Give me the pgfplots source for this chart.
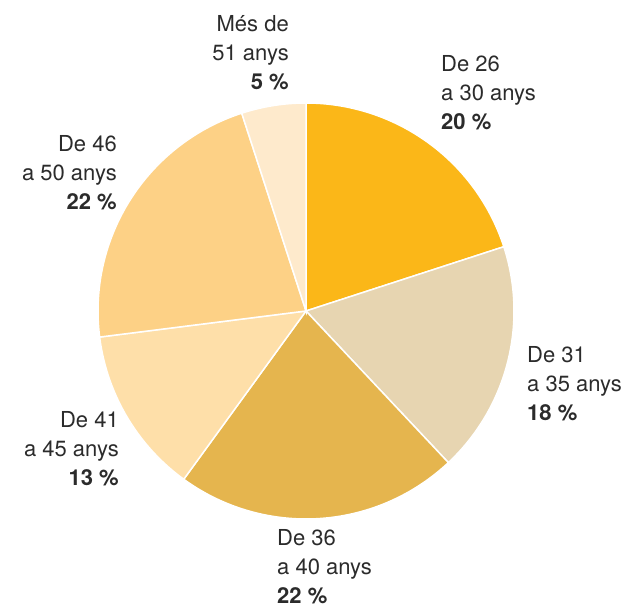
\documentclass[border=0pt]{standalone}
\usepackage{pgfplots}
\pgfplotsset{compat=1.18}
\usepackage{fontspec}
\setmainfont{TeX Gyre Heros}
\definecolor{cA}{HTML}{FBB718}
\definecolor{cB}{HTML}{E7D5B1}
\definecolor{cC}{HTML}{E5B54E}
\definecolor{cD}{HTML}{FEDFA9}
\definecolor{cE}{HTML}{FDD186}
\definecolor{cF}{HTML}{FEEACC}
\definecolor{txt}{HTML}{2B2B2B}
% shares (%): 26-30:20, 31-35:18, 36-40:22, 41-45:13, 46-50:22, >51:5
% angles: start at 90 deg, clockwise, 3.6 deg per percent
\begin{document}
\begin{tikzpicture}
\begin{axis}[
  name=ax,
  width=628bp, height=609bp, scale only axis,
  xmin=0, xmax=628, ymin=0, ymax=609,
  hide axis, clip=false,
]
\def\cx{306}\def\cy{298}\def\R{208}
\addplot[fill=cA, draw=white, line width=1.5pt, domain=90:18, samples=60]
  ({\cx+\R*cos(x)},{\cy+\R*sin(x)}) -- (axis cs:\cx,\cy) -- cycle;
\addplot[fill=cB, draw=white, line width=1.5pt, domain=18:-46.8, samples=60]
  ({\cx+\R*cos(x)},{\cy+\R*sin(x)}) -- (axis cs:\cx,\cy) -- cycle;
\addplot[fill=cC, draw=white, line width=1.5pt, domain=-46.8:-126, samples=60]
  ({\cx+\R*cos(x)},{\cy+\R*sin(x)}) -- (axis cs:\cx,\cy) -- cycle;
\addplot[fill=cD, draw=white, line width=1.5pt, domain=-126:-172.8, samples=60]
  ({\cx+\R*cos(x)},{\cy+\R*sin(x)}) -- (axis cs:\cx,\cy) -- cycle;
\addplot[fill=cE, draw=white, line width=1.5pt, domain=-172.8:-252, samples=60]
  ({\cx+\R*cos(x)},{\cy+\R*sin(x)}) -- (axis cs:\cx,\cy) -- cycle;
\addplot[fill=cF, draw=white, line width=1.5pt, domain=-252:-270, samples=30]
  ({\cx+\R*cos(x)},{\cy+\R*sin(x)}) -- (axis cs:\cx,\cy) -- cycle;

\tikzset{lab/.style={inner sep=0pt, text=txt, font=\fontsize{22bp}{29bp}\selectfont}}
% anchors at the baseline of the last line
\node[lab, anchor=base east, align=right] at (axis cs:289,519) {Més de\\51 anys\\\textbf{5 \%}};
\node[lab, anchor=base west, align=left] at (axis cs:441,479) {De 26\\a 30 anys\\\textbf{20 \%}};
\node[lab, anchor=base east, align=right] at (axis cs:117,399) {De 46\\a 50 anys\\\textbf{22 \%}};
\node[lab, anchor=base west, align=left] at (axis cs:527,188) {De 31\\a 35 anys\\\textbf{18 \%}};
\node[lab, anchor=base west, align=left] at (axis cs:277,6) {De 36\\a 40 anys\\\textbf{22 \%}};
\node[lab, anchor=base east, align=right] at (axis cs:119,123) {De 41\\a 45 anys\\\textbf{13 \%}};
\end{axis}
\pgfresetboundingbox
\path (ax.south west) rectangle (ax.north east);
\end{tikzpicture}
\end{document}
